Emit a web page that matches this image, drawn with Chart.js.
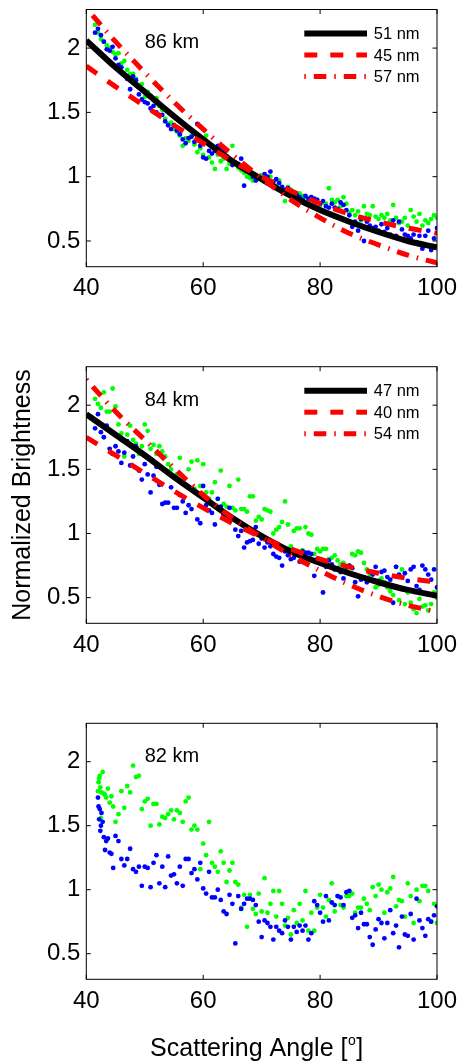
<!DOCTYPE html>
<html><head><meta charset="utf-8">
<script src="https://cdn.jsdelivr.net/npm/chart.js@4.4.1/dist/chart.umd.min.js"></script>
<style>
html,body{margin:0;padding:0;background:#fff;}
body{width:459px;height:1063px;position:relative;overflow:hidden;}
.panel{position:absolute;left:0;width:459px;}
canvas{display:block;}
</style></head><body>
<div class="panel" style="top:0;height:310px"><canvas id="c86" width="459" height="310"></canvas></div>
<div class="panel" style="top:340px;height:320px"><canvas id="c84" width="459" height="320"></canvas></div>
<div class="panel" style="top:700px;height:363px"><canvas id="c82" width="459" height="363"></canvas></div>
<script>
// ---------- data ----------
const xTickValues = [40, 60, 80, 100];
const xTickLabels = ['40', '60', '80', '100'];
const yTickValues = [0.5, 1, 1.5, 2];
const yTickLabels = ['0.5', '1', '1.5', '2'];

const altitudeLabels = ['86 km', '84 km', '82 km'];
const legend86 = ['51 nm', '45 nm', '57 nm'];
const legend84 = ['47 nm', '40 nm', '54 nm'];
const xTitleParts = ['Scattering Angle [', 'o', ']'];
const yTitleText = 'Normalized Brightness';

const fitAngles = [40, 45, 50, 55, 60, 65, 70, 75, 80, 85, 90, 95, 100];
const fit86_51 = [2.06, 1.85, 1.66, 1.47, 1.29, 1.12, 0.98, 0.85, 0.74, 0.65, 0.57, 0.50, 0.45];
const fit86_45 = [1.86, 1.70, 1.55, 1.40, 1.26, 1.12, 1.00, 0.89, 0.79, 0.71, 0.65, 0.60, 0.56];
const fit86_57 = [2.31, 2.05, 1.81, 1.58, 1.37, 1.17, 0.99, 0.82, 0.68, 0.56, 0.47, 0.39, 0.33];
const fit84_47 = [1.93, 1.77, 1.61, 1.44, 1.28, 1.12, 0.98, 0.86, 0.77, 0.69, 0.62, 0.56, 0.515];
const fit84_40 = [1.75, 1.61, 1.47, 1.33, 1.20, 1.08, 0.97, 0.88, 0.80, 0.74, 0.69, 0.65, 0.62];
const fit84_54 = [2.20, 1.95, 1.73, 1.51, 1.30, 1.12, 0.97, 0.83, 0.71, 0.60, 0.51, 0.44, 0.39];

const scanAngles = [
  41.5, 42, 42.5, 43, 43.5, 44, 44.5, 45,
  45.5, 46, 46.5, 47, 47.5, 48, 48.5, 49, 49.5, 50,
  50.5, 51, 51.5, 52, 52.5, 53, 53.5, 54, 54.5, 55,
  55.5, 56, 56.5, 57, 57.5, 58, 58.5, 59, 59.5, 60,
  60.5, 61, 61.5, 62, 62.5, 63, 63.5, 64, 64.5, 65,
  65.5, 66, 66.5, 67, 67.5, 68, 68.5, 69, 69.5, 70,
  70.5, 71, 71.5, 72, 72.5, 73, 73.5, 74, 74.5, 75,
  75.5, 76, 76.5, 77, 77.5, 78, 78.5, 79, 79.5, 80,
  80.5, 81, 81.5, 82, 82.5, 83, 83.5, 84, 84.5, 85,
  85.5, 86, 86.5, 87, 87.5, 88, 88.5, 89, 89.5, 90,
  90.5, 91, 91.5, 92, 92.5, 93, 93.5, 94, 94.5, 95,
  95.5, 96, 96.5, 97, 97.5, 98, 98.5, 99, 99.5, 100];

const green86 = [
  2.18, 2.12, 2.07, 2.05, 2.02, 2.00, 1.97, 1.95,
  1.96, 1.88, 1.90, 1.83, 1.80, 1.80, 1.76, 1.71, 1.72, 1.62,
  1.66, 1.63, 1.60, 1.61, 1.55, 1.52, 1.45, 1.41, 1.42, 1.37,
  1.35, 1.32, 1.24, 1.30, 1.28, 1.32, 1.25, 1.19, 1.22, 1.17,
  1.32, 1.15, 1.11, 1.06, 1.17, 1.12, 1.14, 1.06, 1.10, 1.24,
  1.10, 1.07, 1.05, 1.03, 1.00, 0.99, 0.97, 1.01, 0.99, 1.01,
  0.96, 0.97, 1.00, 0.96, 0.93, 0.97, 0.90, 0.81, 0.92, 0.90,
  0.88, 0.85, 0.87, 0.85, 0.84, 0.81, 0.84, 0.79, 0.82, 0.78,
  0.80, 0.79, 0.91, 0.82, 0.80, 0.82, 0.77, 0.84, 0.79, 0.72,
  0.74, 0.70, 0.73, 0.66, 0.77, 0.71, 0.70, 0.77, 0.69, 0.67,
  0.70, 0.68, 0.71, 0.66, 0.78, 0.68, 0.64, 0.65, 0.68, 0.62,
  0.74, 0.69, 0.65, 0.71, 0.62, 0.66, 0.64, 0.67, 0.70, 0.68];
const blue86 = [
  2.12, 2.15, 2.10, 2.05, 1.99, 1.98, 2.01, 1.92,
  1.87, 1.85, 1.79, 1.76, 1.68, 1.78, 1.75, 1.64, 1.60, 1.58,
  1.57, 1.53, 1.55, 1.50, 1.48, 1.48, 1.43, 1.40, 1.37, 1.40,
  1.36, 1.33, 1.29, 1.26, 1.30, 1.31, 1.27, 1.41, 1.24, 1.15,
  1.14, 1.20, 1.18, 1.20, 1.24, 1.22, 1.19, 1.16, 1.13, 1.09,
  1.11, 1.10, 1.14, 0.93, 1.05, 1.04, 1.00, 0.97, 0.99, 0.98,
  1.02, 1.00, 1.04, 0.96, 0.98, 0.95, 0.92, 0.90, 0.91, 0.88,
  0.87, 0.86, 0.84, 0.82, 0.85, 0.83, 0.84, 0.83, 0.82, 0.79,
  0.81, 0.77, 0.76, 0.79, 0.76, 0.75, 0.80, 0.78, 0.74, 0.70,
  0.61, 0.65, 0.58, 0.67, 0.50, 0.65, 0.62, 0.60, 0.61, 0.58,
  0.63, 0.57, 0.60, 0.55, 0.66, 0.54, 0.65, 0.59, 0.55, 0.54,
  0.52, 0.55, 0.49, 0.54, 0.44, 0.54, 0.58, 0.43, 0.52, 0.60];

const green84 = [
  2.05, 2.01, 1.98, 2.10, 1.95, 1.95, 2.13, 1.99,
  1.85, 1.78, 1.60, 1.77, 1.84, 1.73, 1.70, 1.62, 1.68, 1.85,
  1.80, 1.66, 1.69, 1.62, 1.68, 1.64, 1.60, 1.54, 1.50, 1.44,
  1.46, 1.59, 1.41, 1.38, 1.50, 1.56, 1.35, 1.57, 1.37, 1.54,
  1.32, 1.27, 1.32, 1.40, 1.27, 1.49, 1.23, 1.21, 1.37, 1.20,
  1.18, 1.42, 1.19, 1.19, 1.17, 1.29, 1.29, 1.10, 1.13, 1.11,
  1.19, 1.18, 1.17, 1.00, 1.03, 1.05, 1.09, 1.25, 1.07, 0.90,
  1.02, 1.04, 1.04, 0.87, 1.05, 1.00, 0.99, 0.84, 0.88, 0.86,
  0.88, 0.88, 0.80, 0.81, 0.83, 0.79, 0.76, 0.77, 0.72, 0.75,
  0.84, 0.83, 0.86, 0.85, 0.77, 0.72, 0.68, 0.63, 0.58, 0.60,
  0.65, 0.62, 0.58, 0.55, 0.52, 0.74, 0.48, 0.72, 0.45, 0.54,
  0.46, 0.41, 0.38, 0.49, 0.43, 0.44, 0.40, 0.45, 0.54, 0.50];
const blue84 = [
  1.82, 1.93, 1.79, 1.75, 1.84, 1.66, 1.62, 1.68,
  1.64, 1.55, 1.63, 1.72, 1.53, 1.60, 1.68, 1.49, 1.42, 1.54,
  1.46, 1.32, 1.45, 1.52, 1.38, 1.23, 1.24, 1.24, 1.36, 1.20,
  1.20, 1.30, 1.25, 1.16, 1.22, 1.19, 1.33, 1.11, 1.08, 1.37,
  1.22, 1.18, 1.16, 1.07, 1.27, 1.21, 1.15, 1.13, 1.20, 1.11,
  1.03, 0.98, 1.02, 0.89, 0.93, 0.94, 0.95, 1.05, 0.92, 0.96,
  0.89, 0.93, 0.90, 0.84, 0.82, 0.81, 0.75, 0.86, 0.83, 0.80,
  0.81, 0.84, 0.78, 0.86, 0.85, 0.85, 0.84, 0.67, 0.80, 0.78,
  0.54, 0.74, 0.79, 0.76, 0.72, 0.73, 0.70, 0.65, 0.74, 0.75,
  0.73, 0.62, 0.51, 0.64, 0.66, 0.62, 0.70, 0.68, 0.74, 0.63,
  0.70, 0.71, 0.66, 0.64, 0.46, 0.74, 0.68, 0.66, 0.69, 0.63,
  0.72, 0.74, 0.59, 0.56, 0.75, 0.72, 0.68, 0.64, 0.72, 0.58];

const scanAngles82 = [
  42.0, 42.1, 42.2, 42.3, 42.4, 42.5, 42.6, 42.8, 43.0, 43.2, 43.4, 43.7, 44.0, 44.3, 44.6, 45.0,
  45.5, 46, 46.5, 47, 47.5, 48, 48.5, 49, 49.5, 50,
  50.5, 51, 51.5, 52, 52.5, 53, 53.5, 54, 54.5, 55,
  55.5, 56, 56.5, 57, 57.5, 58, 58.5, 59, 59.5, 60,
  60.5, 61, 61.5, 62, 62.5, 63, 63.5, 64, 64.5, 65,
  65.5, 66, 66.5, 67, 67.5, 68, 68.5, 69, 69.5, 70,
  70.5, 71, 71.5, 72, 72.5, 73, 73.5, 74, 74.5, 75,
  75.5, 76, 76.5, 77, 77.5, 78, 78.5, 79, 79.5, 80,
  80.5, 81, 81.5, 82, 82.5, 83, 83.5, 84, 84.5, 85,
  85.5, 86, 86.5, 87, 87.5, 88, 88.5, 89, 89.5, 90,
  90.5, 91, 91.5, 92, 92.5, 93, 93.5, 94, 94.5, 95,
  95.5, 96, 96.5, 97, 97.5, 98, 98.5, 99, 99.5, 100];
const green82 = [
  1.77, 1.84, 1.87, 1.89, 1.80, 1.56, 1.76, 1.92, 1.75, 1.74, 1.72, 1.79, 1.68, 1.73, 1.65, 1.53,
  1.59, 1.77, 1.64, 1.81, 1.76, 1.97, 1.88, 1.89, 1.63, 1.69,
  1.71, 1.50, 1.67, 1.67, 1.51, 1.57, 1.56, 1.59, 1.62, 1.55,
  1.62, 1.60, 1.53, 1.69, 1.72, 1.47, 1.50, 1.47, 1.16, 1.36,
  1.27, 1.53, 1.21, 1.18, 1.14, 1.30, 1.21, 1.06, 1.15, 1.21,
  1.06, 1.04, 0.86, 0.96, 0.71, 0.96, 0.85, 0.81, 0.97, 0.83,
  1.09, 0.82, 0.89, 0.99, 0.79, 0.99, 0.89, 0.72, 0.78, 0.65,
  0.84, 0.74, 0.89, 0.76, 0.99, 0.68, 0.82, 0.68, 0.86, 0.96,
  0.86, 0.79, 0.92, 1.05, 0.83, 0.95, 0.88, 0.86, 0.95, 0.95,
  0.97, 0.82, 0.86, 0.86, 0.93, 0.89, 0.84, 1.02, 0.95, 1.04,
  1.00, 0.82, 0.98, 1.01, 1.10, 0.87, 0.92, 0.91, 0.79, 1.05,
  0.95, 0.74, 1.00, 0.91, 1.03, 1.03, 0.99, 0.75, 0.89, 0.74];
const blue82 = [
  1.72, 1.65, 1.55, 1.63, 1.46, 1.50, 1.60, 1.53, 1.41, 1.31, 1.38, 1.40, 1.29, 1.28, 1.17, 1.42,
  1.38, 1.24, 1.19, 1.24, 1.32, 1.16, 1.14, 1.18, 1.03, 1.18,
  1.17, 1.02, 1.21, 1.27, 1.05, 1.18, 1.02, 1.26, 1.11, 1.12,
  1.05, 1.18, 1.03, 1.24, 1.24, 1.13, 1.16, 1.08, 1.21, 1.01,
  0.97, 1.14, 0.94, 0.94, 1.00, 0.92, 0.83, 0.81, 0.96, 0.89,
  0.58, 0.95, 0.85, 0.89, 0.93, 0.93, 0.92, 0.88, 0.75, 0.63,
  0.76, 0.74, 0.71, 0.61, 0.71, 0.68, 0.66, 0.76, 0.71, 0.61,
  0.71, 0.67, 0.72, 0.68, 0.72, 0.61, 0.66, 0.91, 0.88, 0.82,
  0.75, 0.95, 0.76, 0.90, 0.88, 0.95, 0.94, 0.88, 0.98, 0.99,
  0.78, 0.80, 0.70, 0.82, 0.73, 0.73, 0.63, 0.57, 0.69, 0.77,
  0.74, 0.62, 0.74, 0.84, 0.66, 0.72, 0.55, 0.79, 0.65, 0.64,
  0.81, 0.61, 0.93, 0.76, 0.70, 0.64, 0.77, 0.75, 0.80, 0.87];

// ---------- rendering ----------
const FONT = "'Liberation Sans', Arial, Helvetica, sans-serif";

function pairs(xs, ys) {
  const n = Math.min(xs.length, ys.length), out = [];
  for (let i = 0; i < n; i++) out.push({x: xs[i], y: ys[i]});
  return out;
}

const matlabPlugin = {
  id: 'matlab',
  afterDatasetsDraw(chart, args, opts) {
    const ctx = chart.ctx, a = chart.chartArea, xs = chart.scales.x, ys = chart.scales.y;
    ctx.save();
    ctx.setLineDash([]);
    ctx.strokeStyle = '#000';
    ctx.lineWidth = 1;
    ctx.strokeRect(a.left, a.top, a.right - a.left, a.bottom - a.top);
    const tl = 4.5;
    ctx.beginPath();
    xs.ticks.forEach(t => {
      const p = xs.getPixelForValue(t.value);
      ctx.moveTo(p, a.bottom); ctx.lineTo(p, a.bottom - tl);
      ctx.moveTo(p, a.top); ctx.lineTo(p, a.top + tl);
    });
    ys.ticks.forEach(t => {
      const p = ys.getPixelForValue(t.value);
      ctx.moveTo(a.left, p); ctx.lineTo(a.left + tl, p);
      ctx.moveTo(a.right, p); ctx.lineTo(a.right - tl, p);
    });
    ctx.stroke();

    ctx.fillStyle = '#000';
    if (opts.text) {
      ctx.font = '20px ' + FONT;
      ctx.textAlign = 'left';
      ctx.textBaseline = 'middle';
      ctx.fillText(opts.text, xs.getPixelForValue(opts.textX), ys.getPixelForValue(opts.textY));
    }

    if (opts.legend) {
      const items = chart.data.datasets.filter(d => d.legendRank !== undefined)
        .sort((p, q) => p.legendRank - q.legendRank);
      items.forEach((d, i) => {
        const yy = a.top + 24 + i * 21.5;
        ctx.beginPath();
        ctx.strokeStyle = d.borderColor;
        ctx.lineWidth = d.borderWidth;
        ctx.lineCap = 'butt';
        ctx.setLineDash(d.borderDash || []);
        ctx.moveTo(a.right - 132.7, yy);
        ctx.lineTo(a.right - 70, yy);
        ctx.stroke();
        ctx.setLineDash([]);
        ctx.font = '16.5px ' + FONT;
        ctx.textAlign = 'left';
        ctx.textBaseline = 'middle';
        ctx.fillText(d.label, a.right - 63.3, yy + 1);
      });
    }

    if (opts.xTitle) {
      const parts = opts.xTitle;
      ctx.textAlign = 'left';
      ctx.textBaseline = 'alphabetic';
      ctx.font = '25px ' + FONT;
      const w0 = ctx.measureText(parts[0]).width;
      const w2 = ctx.measureText(parts[2]).width;
      ctx.font = '14px ' + FONT;
      const w1 = ctx.measureText(parts[1]).width;
      const total = w0 + w1 + w2 + 1;
      const x0 = (a.left + a.right) / 2 - 5 - total / 2;
      const base = a.bottom + 77;
      ctx.font = '25px ' + FONT;
      ctx.fillText(parts[0], x0, base);
      ctx.font = '14px ' + FONT;
      ctx.fillText(parts[1], x0 + w0 + 0.5, base - 11);
      ctx.font = '25px ' + FONT;
      ctx.fillText(parts[2], x0 + w0 + w1 + 1, base);
    }
    ctx.restore();
  }
};

function fitDataset(label, values, kind, rank) {
  const st = {
    solid:   {color: '#000000', width: 6,   dash: []},
    dashed:  {color: '#ff0000', width: 5, dash: [13, 13]},
    dashdot: {color: '#ff0000', width: 5, dash: [1.5, 8, 12.5, 8]}
  }[kind];
  return {
    label, data: pairs(fitAngles, values), showLine: true, pointRadius: 0, pointHoverRadius: 0,
    borderColor: st.color, backgroundColor: st.color, borderWidth: st.width, borderDash: st.dash,
    borderCapStyle: 'butt', cubicInterpolationMode: 'monotone', fill: false, clip: 0, legendRank: rank
  };
}
function dotDataset(label, xs, ys, color) {
  return {
    label, data: pairs(xs, ys), showLine: false, pointRadius: 2.4, pointHoverRadius: 0,
    pointBackgroundColor: color, pointBorderWidth: 0, backgroundColor: color, borderColor: color, clip: 0
  };
}

function makePanel(id, p) {
  const H = p.height;
  const yScale = {
    type: 'linear', min: 0.3, max: 2.3,
    grid: {display: false, drawTicks: false}, border: {display: false},
    afterBuildTicks: s => { s.ticks = yTickValues.map(v => ({value: v})); },
    afterFit: s => { s.width = 86.3; s.paddingTop = 0; s.paddingBottom = 0; },
    ticks: {
      font: {family: FONT, size: 24}, color: '#000', padding: 6, includeBounds: false,
      callback: v => { const i = yTickValues.indexOf(v); return i >= 0 ? yTickLabels[i] : ''; }
    },
    title: p.yTitle ? {display: true, text: p.yTitle, color: '#000',
      font: {family: FONT, size: 25}, padding: {top: 8.5, bottom: 0}} : {display: false}
  };
  const xScale = {
    type: 'linear', min: 40, max: 100,
    grid: {display: false, drawTicks: false}, border: {display: false},
    afterBuildTicks: s => { s.ticks = xTickValues.map(v => ({value: v})); },
    afterFit: s => { s.height = H - p.bottom; s.paddingLeft = 0; s.paddingRight = 0; },
    ticks: {
      font: {family: FONT, size: 24}, color: '#000', padding: p.xPad, maxRotation: 0, autoSkip: false,
      includeBounds: false,
      callback: v => { const i = xTickValues.indexOf(v); return i >= 0 ? xTickLabels[i] : ''; }
    }
  };
  return new Chart(document.getElementById(id), {
    type: 'scatter',
    data: {datasets: p.datasets},
    options: {
      responsive: false, animation: false, devicePixelRatio: 1, events: [],
      layout: {padding: {top: p.top, right: 22, left: 0, bottom: 0}},
      plugins: {
        legend: {display: false}, tooltip: {enabled: false},
        matlab: {text: p.text, textX: 50, textY: 2.04, legend: p.legend, xTitle: p.xTitle}
      },
      scales: {x: xScale, y: yScale}
    },
    plugins: [matlabPlugin]
  });
}

makePanel('c86', {
  height: 310, top: 9.5, bottom: 266.7, xPad: 7,
  text: altitudeLabels[0], legend: true,
  datasets: [
    fitDataset(legend86[2], fit86_57, 'dashdot', 2),
    fitDataset(legend86[1], fit86_45, 'dashed', 1),
    fitDataset(legend86[0], fit86_51, 'solid', 0),
    dotDataset('blue', scanAngles, blue86, '#0000ff'),
    dotDataset('green', scanAngles, green86, '#00ff00')
  ]
});
makePanel('c84', {
  height: 320, top: 26.7, bottom: 283.3, xPad: 7.5,
  text: altitudeLabels[1], legend: true, yTitle: yTitleText,
  datasets: [
    fitDataset(legend84[2], fit84_54, 'dashdot', 2),
    fitDataset(legend84[1], fit84_40, 'dashed', 1),
    fitDataset(legend84[0], fit84_47, 'solid', 0),
    dotDataset('blue', scanAngles, blue84, '#0000ff'),
    dotDataset('green', scanAngles, green84, '#00ff00')
  ]
});
makePanel('c82', {
  height: 363, top: 23.3, bottom: 279.3, xPad: 8,
  text: altitudeLabels[2], legend: false, xTitle: xTitleParts,
  datasets: [
    dotDataset('blue', scanAngles82, blue82, '#0000ff'),
    dotDataset('green', scanAngles82, green82, '#00ff00')
  ]
});
</script>
</body></html>
